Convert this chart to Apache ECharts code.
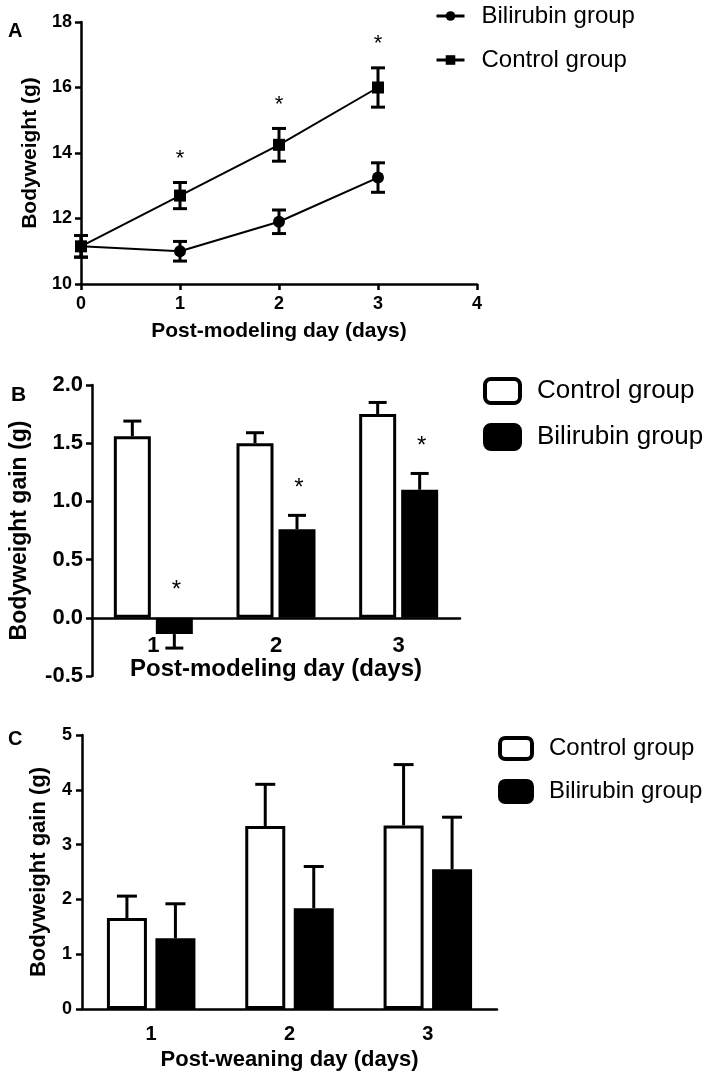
<!DOCTYPE html>
<html>
<head>
<meta charset="utf-8">
<script src="https://cdn.jsdelivr.net/npm/echarts@6/dist/echarts.min.js"></script>
<style>
html,body{margin:0;padding:0;background:#fff;}
#chart{width:716px;height:1080px;}
</style>
</head>
<body>
<div id="chart"></div>
<script>
// ---------- DATA ----------
// Panel A: bodyweight (g) by post-modeling day
const daysA = [0, 1, 2, 3];
const bilA = [11.15, 11.0, 11.9, 13.25];
const bilAErr = [0.33, 0.3, 0.36, 0.45];
const ctrlA = [11.15, 12.7, 14.25, 16.0];
const ctrlAErr = [0.33, 0.4, 0.5, 0.6];
const sigA = [false, true, true, true];
const yTicksA = [10, 12, 14, 16, 18];

// Panel B: bodyweight gain (g) by post-modeling day
const catsB = ['1', '2', '3'];
const ctrlB = [1.56, 1.50, 1.75];
const ctrlBErr = [0.13, 0.09, 0.10];
const bilB = [-0.14, 0.76, 1.10];
const bilBErr = [0.12, 0.12, 0.14];
const sigB = [true, true, true];
const yRangeB = [-0.5, 2.0];

// Panel C: bodyweight gain (g) by post-weaning day
const catsC = ['1', '2', '3'];
const ctrlC = [1.66, 3.34, 3.35];
const ctrlCErr = [0.40, 0.76, 1.11];
const bilC = [1.29, 1.84, 2.55];
const bilCErr = [0.63, 0.76, 0.95];

const nameBil = 'Bilirubin group';
const nameCtrl = 'Control group';

// ---------- STYLE ----------
const FONT = '"Liberation Sans", Arial, sans-serif';
const AXW = 2.5;
const barWB = 37, gapB = 5;
const barWC = 40, gapC = 8.5;
const gridB = {left: 86, top: 385, width: 374, height: 291};
// move panel B category axis up to the zero line (labels and title follow it)
const zeroOffsetB = -gridB.height * (0 - yRangeB[0]) / (yRangeB[1] - yRangeB[0]);

function errBoth(cap, lw) {
  return function (params, api) {
    const x = api.value(0), v = api.value(1), e = api.value(2);
    const top = api.coord([x, v + e]);
    const bot = api.coord([x, v - e]);
    const px = top[0];
    const st = {stroke: '#000', lineWidth: lw};
    return {type: 'group', children: [
      {type: 'line', shape: {x1: px, y1: top[1], x2: px, y2: bot[1]}, style: st},
      {type: 'line', shape: {x1: px - cap / 2, y1: top[1], x2: px + cap / 2, y2: top[1]}, style: st},
      {type: 'line', shape: {x1: px - cap / 2, y1: bot[1], x2: px + cap / 2, y2: bot[1]}, style: st}
    ]};
  };
}
function errUp(offset, cap, lw) {
  return function (params, api) {
    const x = api.value(0), v = api.value(1), e = api.value(2);
    const sign = v < 0 ? -1 : 1;
    const base = api.coord([x, v]);
    const tip = api.coord([x, v + sign * e]);
    const px = base[0] + offset;
    const st = {stroke: '#000', lineWidth: lw};
    return {type: 'group', children: [
      {type: 'line', shape: {x1: px, y1: base[1], x2: px, y2: tip[1]}, style: st},
      {type: 'line', shape: {x1: px - cap / 2, y1: tip[1], x2: px + cap / 2, y2: tip[1]}, style: st}
    ]};
  };
}
function starRender(offset, lift, size) {
  return function (params, api) {
    const x = api.value(0), v = api.value(1), e = api.value(2);
    const top = v >= 0 ? v + e : 0;
    const p = api.coord([x, top]);
    return {type: 'text', x: p[0] + offset, y: p[1] - lift,
      style: {text: '*', font: size + 'px ' + FONT, fill: '#000', align: 'center', verticalAlign: 'middle'}};
  };
}

const axisLineS = {lineStyle: {color: '#000', width: AXW}};
const tickS = {lineStyle: {color: '#000', width: AXW}, length: 6};

const chart = echarts.init(document.getElementById('chart'));
const option = {
  animation: false,
  backgroundColor: '#fff',
  textStyle: {fontFamily: FONT},
  title: [
    {text: 'A', left: 8, top: 21, padding: 0, textStyle: {fontSize: 20, fontWeight: 'bold', color: '#000', fontFamily: FONT}},
    {text: 'B', left: 11, top: 385, padding: 0, textStyle: {fontSize: 21, fontWeight: 'bold', color: '#000', fontFamily: FONT}},
    {text: 'C', left: 8, top: 729, padding: 0, textStyle: {fontSize: 20, fontWeight: 'bold', color: '#000', fontFamily: FONT}}
  ],
  legend: [
    {
      left: 435, top: 4, orient: 'vertical', padding: 0, itemGap: 20,
      itemWidth: 28, itemHeight: 12,
      lineStyle: {width: 3},
      textStyle: {fontSize: 24, color: '#000', fontFamily: FONT, padding: [0, 0, 0, 12]},
      data: [nameBil, nameCtrl]
    },
    {
      left: 483, top: 377, orient: 'vertical', padding: 0, itemGap: 18,
      itemWidth: 35, itemHeight: 24,
      textStyle: {fontSize: 26, color: '#000', fontFamily: FONT, padding: [0, 0, 0, 12]},
      data: [
        {name: nameCtrl, icon: 'roundRect', itemStyle: {color: '#fff', borderColor: '#000', borderWidth: 4}},
        {name: nameBil, icon: 'roundRect', itemStyle: {color: '#000', borderColor: '#000', borderWidth: 4}}
      ]
    },
    {
      left: 498, top: 736, orient: 'vertical', padding: 0, itemGap: 18,
      itemWidth: 32, itemHeight: 21,
      textStyle: {fontSize: 24, color: '#000', fontFamily: FONT, padding: [0, 0, 0, 12]},
      data: [
        {name: nameCtrl, icon: 'roundRect', itemStyle: {color: '#fff', borderColor: '#000', borderWidth: 4}},
        {name: nameBil, icon: 'roundRect', itemStyle: {color: '#000', borderColor: '#000', borderWidth: 4}}
      ]
    }
  ],
  grid: [
    {left: 81, top: 22, width: 396, height: 262},
    gridB,
    {left: 82, top: 735, width: 415, height: 274}
  ],
  xAxis: [
    {
      gridIndex: 0, type: 'value', min: 0, max: 4, interval: 1,
      axisLine: axisLineS, axisTick: tickS, splitLine: {show: false},
      axisLabel: {color: '#000', fontSize: 18, fontWeight: 'bold', margin: 11},
      name: 'Post-modeling day (days)', nameLocation: 'middle', nameGap: 37,
      nameTextStyle: {fontSize: 21, fontWeight: 'bold', color: '#000'}
    },
    {
      gridIndex: 1, type: 'category', data: catsB,
      offset: zeroOffsetB,
      axisLine: Object.assign({onZero: false}, axisLineS),
      axisTick: {alignWithLabel: true, lineStyle: {color: '#000', width: AXW}, length: 7},
      axisLabel: {color: '#000', fontSize: 22, fontWeight: 'bold', margin: 17},
      name: 'Post-modeling day (days)', nameLocation: 'middle', nameGap: 39,
      nameTextStyle: {fontSize: 24, fontWeight: 'bold', color: '#000'}
    },
    {
      gridIndex: 2, type: 'category', data: catsC,
      axisLine: axisLineS,
      axisTick: {alignWithLabel: true, lineStyle: {color: '#000', width: AXW}, length: 7},
      axisLabel: {color: '#000', fontSize: 20, fontWeight: 'bold', margin: 15},
      name: 'Post-weaning day (days)', nameLocation: 'middle', nameGap: 40,
      nameTextStyle: {fontSize: 22, fontWeight: 'bold', color: '#000'}
    }
  ],
  yAxis: [
    {
      gridIndex: 0, type: 'value', min: yTicksA[0], max: yTicksA[yTicksA.length - 1], interval: 2,
      axisLine: {show: true, lineStyle: {color: '#000', width: AXW}}, axisTick: {show: true, lineStyle: {color: '#000', width: AXW}, length: 6},
      splitLine: {show: false},
      axisLabel: {color: '#000', fontSize: 18, fontWeight: 'bold', margin: 9},
      name: 'Bodyweight (g)', nameLocation: 'middle', nameGap: 40, nameRotate: 90,
      nameTextStyle: {fontSize: 21, fontWeight: 'bold', color: '#000'}
    },
    {
      gridIndex: 1, type: 'value', min: yRangeB[0], max: yRangeB[1], interval: 0.5,
      axisLine: {show: true, lineStyle: {color: '#000', width: AXW}}, axisTick: {show: true, lineStyle: {color: '#000', width: AXW}, length: 6},
      splitLine: {show: false},
      axisLabel: {color: '#000', fontSize: 22, fontWeight: 'bold', margin: 9, formatter: v => v.toFixed(1)},
      name: 'Bodyweight gain (g)', nameLocation: 'middle', nameGap: 61, nameRotate: 90,
      nameTextStyle: {fontSize: 23, fontWeight: 'bold', color: '#000'}
    },
    {
      gridIndex: 2, type: 'value', min: 0, max: 5, interval: 1,
      axisLine: {show: true, lineStyle: {color: '#000', width: AXW}}, axisTick: {show: true, lineStyle: {color: '#000', width: AXW}, length: 6},
      splitLine: {show: false},
      axisLabel: {color: '#000', fontSize: 18, fontWeight: 'bold', margin: 10},
      name: 'Bodyweight gain (g)', nameLocation: 'middle', nameGap: 32, nameRotate: 90,
      nameTextStyle: {fontSize: 22, fontWeight: 'bold', color: '#000'}
    }
  ],
  series: [
    // Panel A lines
    {
      name: nameBil, type: 'line', xAxisIndex: 0, yAxisIndex: 0,
      data: daysA.map((d, i) => [d, bilA[i]]),
      symbol: 'circle', symbolSize: 12,
      lineStyle: {color: '#000', width: 2}, itemStyle: {color: '#000'}, z: 3
    },
    {
      name: nameCtrl, type: 'line', xAxisIndex: 0, yAxisIndex: 0,
      data: daysA.map((d, i) => [d, ctrlA[i]]),
      symbol: 'rect', symbolSize: 12,
      lineStyle: {color: '#000', width: 2}, itemStyle: {color: '#000'}, z: 3
    },
    {
      type: 'custom', xAxisIndex: 0, yAxisIndex: 0, silent: true, z: 4,
      renderItem: errBoth(14, 3), encode: {x: 0, y: 1},
      data: daysA.map((d, i) => [d, bilA[i], bilAErr[i]])
    },
    {
      type: 'custom', xAxisIndex: 0, yAxisIndex: 0, silent: true, z: 4,
      renderItem: errBoth(14, 3), encode: {x: 0, y: 1},
      data: daysA.map((d, i) => [d, ctrlA[i], ctrlAErr[i]])
    },
    {
      type: 'custom', xAxisIndex: 0, yAxisIndex: 0, silent: true, z: 4,
      renderItem: starRender(0, 24, 22), encode: {x: 0, y: 1},
      data: daysA.map((d, i) => [d, ctrlA[i], ctrlAErr[i]]).filter((r, i) => sigA[i])
    },
    // Panel B bars
    {
      name: nameCtrl, type: 'bar', xAxisIndex: 1, yAxisIndex: 1,
      data: ctrlB, barWidth: barWB, barGap: (gapB / barWB * 100) + '%',
      itemStyle: {color: '#fff', borderColor: '#000', borderWidth: 3}
    },
    {
      name: nameBil, type: 'bar', xAxisIndex: 1, yAxisIndex: 1,
      data: bilB, barWidth: barWB, barGap: (gapB / barWB * 100) + '%',
      itemStyle: {color: '#000', borderColor: '#000', borderWidth: 3}
    },
    {
      type: 'custom', xAxisIndex: 1, yAxisIndex: 1, silent: true, z: 4,
      renderItem: errUp(-(barWB + gapB) / 2, 18, 3), encode: {x: 0, y: 1},
      data: catsB.map((c, i) => [i, ctrlB[i], ctrlBErr[i]])
    },
    {
      type: 'custom', xAxisIndex: 1, yAxisIndex: 1, silent: true, z: 4,
      renderItem: errUp((barWB + gapB) / 2, 18, 3), encode: {x: 0, y: 1},
      data: catsB.map((c, i) => [i, bilB[i], bilBErr[i]])
    },
    {
      type: 'custom', xAxisIndex: 1, yAxisIndex: 1, silent: true, z: 4,
      renderItem: starRender((barWB + gapB) / 2 + 2, 27, 24), encode: {x: 0, y: 1},
      data: catsB.map((c, i) => [i, bilB[i], bilBErr[i]]).filter((r, i) => sigB[i])
    },
    // Panel C bars
    {
      name: nameCtrl, type: 'bar', xAxisIndex: 2, yAxisIndex: 2,
      data: ctrlC, barWidth: barWC, barGap: (gapC / barWC * 100) + '%',
      itemStyle: {color: '#fff', borderColor: '#000', borderWidth: 3}
    },
    {
      name: nameBil, type: 'bar', xAxisIndex: 2, yAxisIndex: 2,
      data: bilC, barWidth: barWC, barGap: (gapC / barWC * 100) + '%',
      itemStyle: {color: '#000', borderColor: '#000', borderWidth: 3}
    },
    {
      type: 'custom', xAxisIndex: 2, yAxisIndex: 2, silent: true, z: 4,
      renderItem: errUp(-(barWC + gapC) / 2, 20, 3), encode: {x: 0, y: 1},
      data: catsC.map((c, i) => [i, ctrlC[i], ctrlCErr[i]])
    },
    {
      type: 'custom', xAxisIndex: 2, yAxisIndex: 2, silent: true, z: 4,
      renderItem: errUp((barWC + gapC) / 2, 20, 3), encode: {x: 0, y: 1},
      data: catsC.map((c, i) => [i, bilC[i], bilCErr[i]])
    }
  ]
};
chart.setOption(option);
</script>
</body>
</html>
